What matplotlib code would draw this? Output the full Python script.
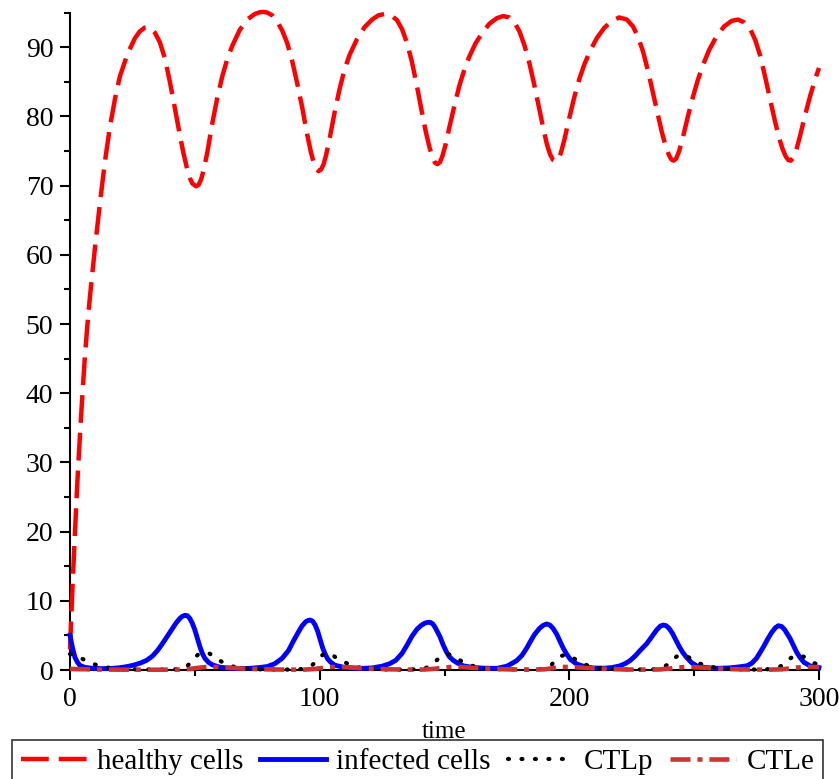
import matplotlib
matplotlib.use("Agg")
import matplotlib.pyplot as plt
from matplotlib.ticker import MultipleLocator

plt.rcParams["font.family"] = ["Liberation Serif", "DejaVu Serif"]
plt.rcParams["lines.scale_dashes"] = False

# healthy cells (red dashed)
healthy_t = [0, 1, 2, 3, 4, 5, 6, 7, 8, 10, 12, 14, 16, 18, 20, 23, 26, 28, 30, 31,
             32, 34, 36, 38, 40, 42, 44, 45.5, 47, 48, 49, 50.5, 51.5, 52.5, 53.5, 55, 57, 59, 61, 63,
             65, 68, 71, 74, 76, 77.5, 79, 81, 83, 85, 87, 89, 91, 93, 95, 96.5, 97.5, 98.5, 99.5, 100.5,
             101.5, 102.5, 104, 106, 108, 110, 112, 115, 118, 121, 123.5, 126, 128.5, 131, 133, 135, 137, 139, 141, 142.5,
             144, 145.2, 146.2, 147.2, 148.2, 149.2, 150.5, 152, 154, 156, 158, 160, 162.5, 165, 168, 171, 173.5, 176, 178, 180,
             182, 184, 186, 188, 189.5, 191, 192.3, 193.5, 194.6, 195.6, 196.6, 198, 200, 202, 204, 206, 208.5, 211, 214, 217,
             220, 223, 225.5, 227.5, 229.5, 231.5, 233.5, 235.5, 237, 238.5, 239.8, 240.8, 241.8, 242.8, 244, 245.5, 247.5, 249.5, 251.5, 253.5,
             256, 259, 262, 265, 267.5, 270, 272.5, 274.5, 276.5, 278.5, 280.5, 282.5, 284, 285.5, 286.7, 287.7, 288.7, 289.7, 291, 292.5,
             294.5, 296.5, 298.5, 300]
healthy_v = [3, 12, 20, 27.5, 34, 40, 45.5, 50, 54, 61, 67.5, 73.5, 78.5, 82.5, 85.8, 89, 91.3, 92.3, 92.85, 92.9,
             92.8, 92.1, 90.7, 88.4, 85, 81.2, 77.3, 74.6, 72.3, 71.1, 70.3, 69.9, 70.1, 70.9, 72.2, 74.8, 79, 82.7, 85.8, 88.3,
             90.2, 92.5, 94, 94.8, 95.05, 95.1, 95, 94.6, 93.7, 92.4, 90.6, 88, 84.8, 81.3, 77.4, 74.8, 73.5, 72.5, 72.1, 72.3,
             73, 74.3, 76.8, 80.6, 84, 86.8, 88.9, 91.2, 92.9, 94, 94.6, 94.8, 94.65, 93.9, 92.6, 90.6, 87.8, 84.3, 80.5, 77.8,
             75.5, 74.1, 73.3, 73.1, 73.4, 74.3, 76, 78.5, 81.6, 84.5, 86.8, 88.7, 90.6, 92, 93.4, 94.2, 94.5, 94.3, 93.6, 92.3,
             90.3, 87.7, 84.5, 81, 78.4, 76, 74.5, 73.7, 73.5, 73.8, 74.7, 76.6, 79.8, 82.8, 85.4, 87.5, 89.6, 91.3, 92.8, 93.8,
             94.3, 94, 93, 91.5, 89.4, 86.6, 83.4, 80.2, 77.8, 75.8, 74.5, 73.8, 73.6, 73.9, 75, 77, 80, 82.8, 85.3, 87.4,
             89.6, 91.6, 93, 93.8, 94, 93.6, 92.6, 91, 88.7, 85.6, 82.3, 79.1, 76.9, 75.2, 74.2, 73.7, 73.6, 74, 75.3, 77.3,
             80.3, 83, 85.4, 87]

# infected cells (blue solid)
infected_t = [0, 1, 2, 3, 4, 6, 9, 13, 17, 20, 23, 26, 28.5, 30.7, 33, 35, 37, 39, 41, 42.5,
              44, 45, 46, 47, 48, 49, 50, 51, 52, 53, 54, 55.5, 57, 60, 64, 69, 72, 76, 79, 82,
              85, 87.5, 89.5, 91.5, 93, 94.5, 95.5, 96.3, 97.2, 98.2, 99.2, 100.2, 101.2, 102.2, 103.2, 104.5, 106, 109.5, 113, 117.5,
              121, 125, 128, 130.5, 133, 135, 137, 139, 140.5, 142, 143.2, 144.2, 145.2, 146.2, 147.2, 148.2, 149.5, 150.8, 152, 153.5,
              155, 157.5, 161.5, 166, 171, 175, 177, 178.9, 181, 183, 184.2, 186, 188, 189.5, 190.9, 192.2, 193.5, 194.9, 196.2, 197.5,
              198.9, 200.5, 202.9, 206, 209.6, 214, 217, 220.3, 222.5, 224.3, 226.3, 228.3, 231, 233, 235, 236.5, 237.6, 238.8, 240, 241.3,
              242.6, 244, 245.5, 247, 249, 251, 254, 259, 264, 268, 271, 273, 275, 277.7, 279.5, 281, 282.5, 283.7, 285, 286.3,
              287.5, 288.5, 289.8, 291, 292.4, 294, 296.4, 300]
infected_v = [5.0, 3.2, 1.8, 1.1, 0.65, 0.38, 0.25, 0.2, 0.24, 0.33, 0.5, 0.75, 1.05, 1.4, 2.0, 2.8, 3.8, 4.9, 6.0, 6.8,
              7.45, 7.75, 7.9, 7.85, 7.45, 6.75, 5.8, 4.6, 3.4, 2.4, 1.7, 1.1, 0.75, 0.4, 0.26, 0.22, 0.24, 0.36, 0.5, 0.9,
              1.7, 2.8, 4.2, 5.5, 6.4, 7.0, 7.18, 7.22, 7.05, 6.5, 5.6, 4.4, 3.2, 2.3, 1.6, 1.1, 0.7, 0.4, 0.28, 0.24,
              0.3, 0.55, 0.9, 1.4, 2.4, 3.6, 4.9, 5.9, 6.4, 6.75, 6.88, 6.9, 6.7, 6.2, 5.5, 4.8, 3.6, 2.6, 1.9, 1.4,
              1.05, 0.6, 0.36, 0.26, 0.24, 0.55, 0.95, 1.35, 2.1, 3.2, 4.0, 5.1, 6.0, 6.45, 6.65, 6.5, 6.0, 5.2, 4.2, 3.2,
              2.3, 1.5, 0.87, 0.5, 0.29, 0.26, 0.35, 0.6, 0.95, 1.35, 2.0, 2.8, 3.8, 4.8, 5.8, 6.35, 6.5, 6.4, 6.0, 5.3,
              4.4, 3.4, 2.5, 1.8, 1.05, 0.6, 0.38, 0.24, 0.3, 0.45, 0.6, 0.95, 1.7, 3.3, 4.5, 5.4, 6.1, 6.4, 6.3, 5.8,
              5.1, 4.5, 3.5, 2.6, 1.8, 1.1, 0.6, 0.35]

# CTLp (black dotted)
ctlp_t = [0, 2.5, 5, 7.5, 10, 14, 18, 24, 35, 42, 45, 47, 48.5, 50, 51.5, 53, 54.5, 56, 58, 60.5,
          63, 66, 70, 76, 85, 92, 95, 97, 98.5, 100, 101.7, 103.5, 105, 106.5, 109, 111.5, 114, 117.5, 123, 133,
          140, 142.5, 144.2, 146, 148, 150, 151.5, 152.8, 155, 157.5, 160, 163, 167, 173, 182, 188, 191, 193, 194.5, 196.5,
          198.5, 200.5, 202.5, 204.5, 207, 209, 212, 217, 225, 233, 237, 239, 240.7, 243, 245.2, 247.5, 250, 252.5, 255.2, 259,
          265, 273, 280, 283.5, 285.5, 287, 289.5, 291.7, 294, 296.4, 298, 300]
ctlp_v = [2.3, 2.0, 1.6, 1.15, 0.8, 0.4, 0.22, 0.1, 0.05, 0.1, 0.3, 0.6, 1.1, 1.8, 2.3, 2.5, 2.5, 2.35, 1.85, 1.25,
          0.75, 0.43, 0.22, 0.1, 0.05, 0.1, 0.3, 0.7, 1.2, 1.8, 2.35, 2.4, 2.2, 1.8, 1.3, 0.87, 0.5, 0.24, 0.1, 0.05,
          0.12, 0.3, 0.55, 1.1, 1.8, 2.15, 2.25, 2.2, 1.7, 1.1, 0.7, 0.45, 0.22, 0.1, 0.05, 0.12, 0.35, 0.8, 1.4, 2.0,
          2.2, 2.05, 1.5, 1.05, 0.7, 0.55, 0.3, 0.15, 0.06, 0.08, 0.25, 0.7, 1.35, 1.95, 2.2, 1.9, 1.35, 0.9, 0.58, 0.3,
          0.12, 0.06, 0.12, 0.35, 0.7, 1.35, 1.9, 2.2, 1.9, 1.35, 1.0, 0.75]

# CTLe (brown dash-dot)
ctle_t = [0, 5, 10, 20, 35, 44, 48, 51, 54, 57, 60, 64, 70, 78, 88, 94, 98, 101, 104, 107,
          110, 114, 120, 128, 137, 142, 146, 149, 152, 155, 158, 162, 168, 176, 185, 190, 194, 197, 200, 204,
          209, 215, 222, 230, 236, 240, 243, 246, 249, 253, 258, 264, 272, 280, 285, 289, 292, 295, 298, 300]
ctle_v = [0.15, 0.12, 0.08, 0.05, 0.04, 0.06, 0.15, 0.3, 0.42, 0.45, 0.42, 0.32, 0.2, 0.1, 0.05, 0.06, 0.15, 0.3, 0.42, 0.45,
          0.42, 0.32, 0.2, 0.1, 0.05, 0.07, 0.18, 0.32, 0.42, 0.44, 0.4, 0.3, 0.18, 0.09, 0.05, 0.1, 0.3, 0.45, 0.43, 0.36,
          0.26, 0.16, 0.08, 0.05, 0.08, 0.2, 0.35, 0.42, 0.42, 0.35, 0.25, 0.14, 0.07, 0.05, 0.1, 0.25, 0.38, 0.43, 0.43, 0.42]

fig = plt.figure(figsize=(8.39, 7.79), dpi=100)
ax = fig.add_axes([70 / 839, 1 - 670 / 779, 749 / 839, 657.4 / 779])

h1, = ax.plot(healthy_t, healthy_v, color="#ff0000", lw=3.2, linestyle=(0, (20, 7.2)),
              dash_capstyle="butt", label="healthy cells", clip_on=False, zorder=3)
h2, = ax.plot(infected_t, infected_v, color="#0000ff", lw=3.5, label="infected cells",
              clip_on=False, zorder=3)
h3, = ax.plot(ctlp_t, ctlp_v, color="black", lw=3.0, linestyle=(0, (0.7, 9.0)),
              dash_capstyle="round", label="CTLp", clip_on=False, zorder=3)
h4, = ax.plot(ctle_t, ctle_v, color="#cc3333", lw=3.3, linestyle=(0, (14.4, 5, 3.6, 5)),
              dash_capstyle="butt", label="CTLe", clip_on=False, zorder=3)

ax.set_xlim(0, 300)
ax.set_ylim(0, 95)
for side in ("top", "right"):
    ax.spines[side].set_visible(False)
for side in ("left", "bottom"):
    ax.spines[side].set_linewidth(1.5)

ax.xaxis.set_major_locator(MultipleLocator(100))
ax.xaxis.set_minor_locator(MultipleLocator(50))
ax.yaxis.set_major_locator(MultipleLocator(10))
ax.yaxis.set_minor_locator(MultipleLocator(5))
ax.tick_params(which="major", direction="out", length=7, width=1.5, labelsize=20, pad=5)
ax.tick_params(which="minor", direction="out", length=4.5, width=1.5)

ax.set_xlabel("time", fontsize=18)
ax.xaxis.set_label_coords(0.5, (670 - 738) / 657.4)
ax.xaxis.label.set_va("baseline")

leg = fig.legend(handles=[h1, h2, h3, h4], loc="upper left", ncol=4, mode="expand",
                 bbox_to_anchor=(12 / 839, -0.2, 811 / 839, 0.2 + (1 - 740 / 779)),
                 bbox_transform=fig.transFigure, fontsize=21, frameon=True, fancybox=False,
                 borderaxespad=0, borderpad=0.3, handlelength=2.26, handletextpad=0.35,
                 columnspacing=0.5)
leg.get_frame().set_edgecolor("black")
leg.get_frame().set_linewidth(1.2)

fig.savefig("out.png", dpi=100)
